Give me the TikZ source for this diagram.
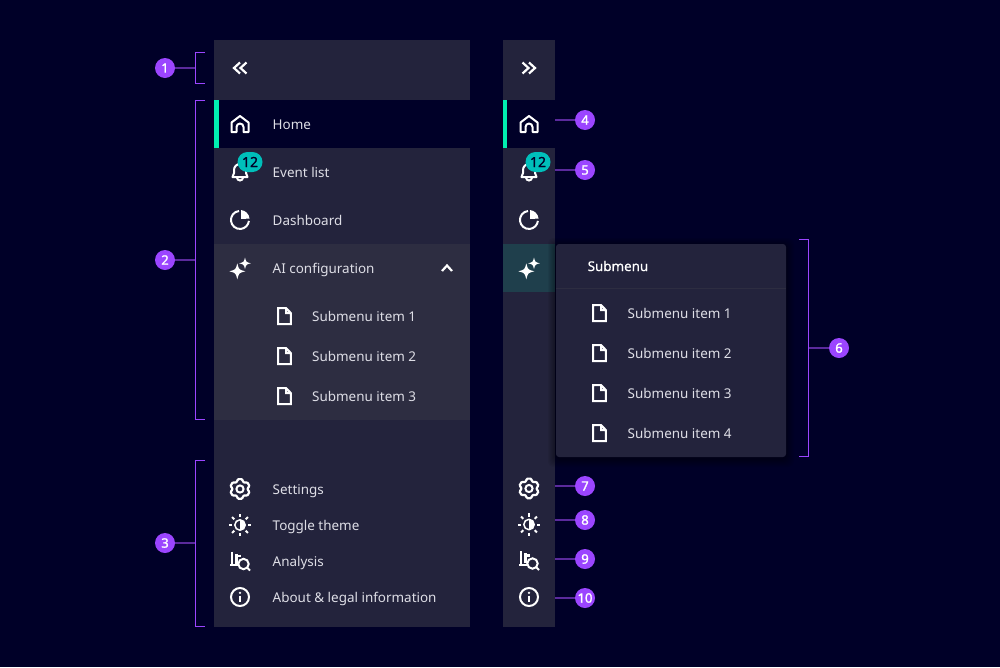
\documentclass[tikz,border=0pt]{standalone}
\usepackage{fontspec}
\setmainfont{Noto Sans}
\usetikzlibrary{positioning}
\definecolor{navy}{HTML}{000028}
\definecolor{panel}{HTML}{23233C}
\definecolor{panellight}{HTML}{2D2D41}
\definecolor{activerow}{HTML}{1F3F4C}
\definecolor{accent}{HTML}{00EFB0}
\definecolor{tealbadge}{HTML}{00BFBA}
\definecolor{callout}{HTML}{9B45FF}
\definecolor{leadcol}{HTML}{5A2A9C}
\definecolor{labelcol}{HTML}{DEDEE6}
\tikzset{
  menulabel/.style={anchor=base west,inner sep=0pt,text=labelcol,font=\fontsize{13.45}{15}\selectfont},
  badge/.style={circle,fill=callout,text=white,inner sep=0pt,minimum size=20pt,font=\fontsize{13}{15}\selectfont\addfontfeature{FakeBold=1.5}},
  counter/.style={rounded corners=10pt,fill=tealbadge,text=navy,inner sep=0pt,minimum width=25pt,minimum height=20pt,font=\fontsize{14}{15}\selectfont\addfontfeature{FakeBold=.8}},
  bracket/.style={draw=callout,line width=1pt},
  leadline/.style={draw=leadcol,line width=1.5pt},
  iconline/.style={draw=white,line width=2pt},
  icon home/.pic={\draw[iconline,line join=round] (-8.5,-8)--(-8.5,1.5)--(0,8)--(8.5,1.5)--(8.5,-8)--(3.5,-8)--(3.5,-3) arc (0:180:3.5)--(-3.5,-8)--cycle;},
  icon bell/.pic={
    \draw[iconline,line join=round] (-7.5,-5)--(7.5,-5)--(6,-1)--(6,2) arc (0:180:6)--(-6,-1)--cycle;
    \draw[iconline] (-3,-5.5) arc (180:360:3);},
  icon pie/.pic={
    \draw[iconline] (-1,9) arc (96:354:9);
    \fill[white] (1,10) arc (84:6:9.6)--(1,1)--cycle;},
  icon star/.pic={\fill[white] (0,1) .. controls (.2,.2) .. (1,0) .. controls (.2,-.2) .. (0,-1) .. controls (-.2,-.2) .. (-1,0) .. controls (-.2,.2) .. cycle;},
  icon spark/.pic={
    \pic[scale=8] at (-2.7,-3.3) {icon star};
    \pic[scale=5.8] at (5,4.7) {icon star};},
  icon doc/.pic={\draw[iconline] (-6.3,-8)--(-6.3,8)--(1.5,8)--(6.3,3)--(6.3,-8)--cycle (1.5,8)--(1.5,3)--(6.3,3);},
  icon gear/.pic={
    \draw[iconline,line width=2.2pt,rounded corners=1pt] (90:10) \foreach \a in {90,150,...,390}{--(\a+14:10)--(\a+20:7.9)--(\a+40:7.9)--(\a+46:10)} --cycle;
    \draw[iconline] (0,0) circle[radius=3.6];},
  icon theme/.pic={
    \draw[white,line width=1.5pt] (0,0) circle[radius=5.2];
    \fill[white] (0,5.2) arc (90:-90:5.2)--cycle;
    \foreach \a in {0,45,...,315} \draw[iconline] (\a:8)--(\a:11.2);},
  icon scan/.pic={
    \draw[iconline,line width=2.6pt] (-8,9.5)--(-8,-3) (-3.8,7.5)--(-3.8,-2.5) (-.3,6.5)--(-.3,4);
    \draw[iconline] (-10,-4.3)--(-2,-4.3);
    \draw[iconline] (3.5,-3) circle[radius=5.2];
    \draw[iconline] (7.2,-6.7)--(10,-9.5);},
  icon info/.pic={
    \draw[iconline] (0,0) circle[radius=9];
    \fill[white] (0,4.2) circle[radius=1.3];
    \draw[iconline] (0,1.5)--(0,-5.2);},
  icon back/.pic={\draw[iconline,line width=2.2pt] (0,5.5)--(-6,0)--(0,-5.5) (6.5,5.5)--(.5,0)--(6.5,-5.5);},
  icon forth/.pic={\draw[iconline,line width=2.2pt] (0,5.5)--(6,0)--(0,-5.5) (-6.5,5.5)--(-.5,0)--(-6.5,-5.5);},
  icon up/.pic={\draw[iconline,line width=2.2pt] (-5,-3)--(0,2.5)--(5,-3);},
}
\begin{document}
\begin{tikzpicture}[x=1pt,y=1pt]
    \useasboundingbox (0,0) rectangle (1000,-667);
    \fill[navy] (0,0) rectangle (1000,-667);
    % left panel
    \fill[panel] (214,-40) rectangle (470,-627);
    \fill[navy] (214,-100) rectangle (470,-148);
    \fill[accent] (214,-100) rectangle (218.5,-148);
    \fill[panellight] (214,-244) rectangle (470,-420);
    % collapsed panel
    \fill[panel] (502.5,-40) rectangle (554.5,-627);
    \fill[navy] (502.5,-100) rectangle (554.5,-148);
    \fill[accent] (502.5,-100) rectangle (507,-148);
    \fill[activerow] (502.5,-244) rectangle (554.5,-292);
    % flyout
    \foreach \d in {1,2,...,8}
      \fill[black,opacity=.05,rounded corners=6pt] (556-\d,-244-2+\d) rectangle (786+\d,-457-2-\d);
    \fill[panel,rounded corners=3pt] (556,-244) rectangle (786,-457);
    \draw[panellight,line width=1pt] (556,-288.5) -- (786,-288.5);
    % rows of both panels
    \pic at (240,-68) {icon back};
    \pic at (529,-68) {icon forth};
    \pic at (447,-268) {icon up};
    \foreach \n/\y/\yy/\ico/\txt in {a/124/124/icon home/Home,b/172/172/icon bell/Event list,c/220/220/icon pie/Dashboard,d/268/268/icon spark/AI configuration,e/489/488.5/icon gear/Settings,f/525/524.5/icon theme/Toggle theme,g/561/560.5/icon scan/Analysis,h/597/597/icon info/About \& legal information}{
      \pic at (240,-\y) {\ico};
      \pic at (529,-\yy) {\ico};
      \node[menulabel] (lab\n) at (272.5,-\y-5.5) {\txt};
    }
    \foreach \i/\y in {1/316,2/356,3/396}{
      \pic at (284.5,-\y) {icon doc};
      \node[menulabel] (sub\i) at (312,-\y-5.5) {Submenu item \i};
    }
    \node[menulabel,text=white,font=\fontsize{13.4}{15}\selectfont\addfontfeature{FakeBold=0.5}] (flyhead) at (587.5,-266-5) {Submenu};
    \foreach \i/\y in {1/313,2/353,3/393,4/433}{
      \pic at (599.5,-\y) {icon doc};
      \node[menulabel] (fly\i) at (627.5,-\y-5.5) {Submenu item \i};
    }
    \node[counter] (countleft) at (250,-162) {12};
    \node[counter] (countright) at (538,-162) {12};
    % brackets
    \foreach \n/\x/\y/\top/\bot in {1/165/68/52.5/83.5,2/165/260/100.5/419,3/165/543/460.5/626}{
      \node[badge] (b\n) at (\x,-\y) {\n};
      \coordinate (c\n) at (195,-\y);
      \draw[leadline] (b\n) -- (c\n);
      \draw[bracket] (205,-\top) -- (195,-\top) -- (195,-\bot) -- (205,-\bot);
    }
    \node[badge] (b6) at (839,-348) {6};
    \coordinate (c6) at (808.5,-348);
    \draw[leadline] (b6) -- (c6);
    \draw[bracket] (799,-239.5) -- (808.5,-239.5) -- (808.5,-456.5) -- (799,-456.5);
    % callouts on the collapsed panel
    \foreach \n/\y in {4/120,5/170,7/486,8/520,9/559,10/598}{
      \node[badge] (b\n) at (585,-\y) {\n};
      \coordinate (c\n) at (555,-\y);
      \draw[leadline] (b\n) -- (c\n);
    }
\end{tikzpicture}
\end{document}
